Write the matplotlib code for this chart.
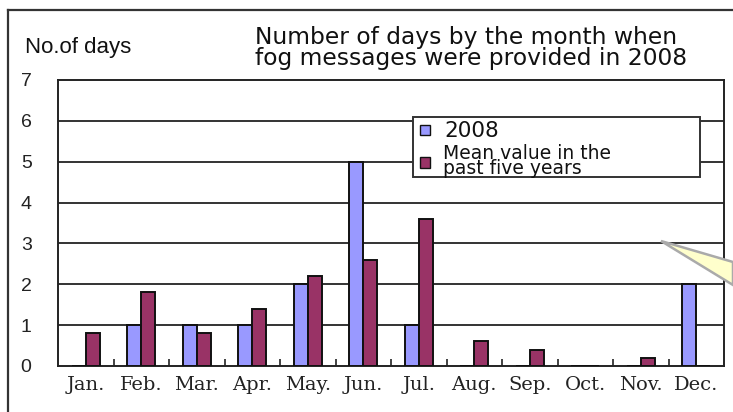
import matplotlib
matplotlib.use("Agg")
import matplotlib.pyplot as plt
import numpy as np
from matplotlib.patches import Rectangle, Polygon
from matplotlib.lines import Line2D

months = ["Jan.", "Feb.", "Mar.", "Apr.", "May.", "Jun.", "Jul.", "Aug.", "Sep.", "Oct.", "Nov.", "Dec."]
days_2008 = [0, 1, 1, 1, 2, 5, 1, 0, 0, 0, 0, 2]
mean_5yr = [0.8, 1.8, 0.8, 1.4, 2.2, 2.6, 3.6, 0.6, 0.4, 0, 0.2, 0]
yticks = [0, 1, 2, 3, 4, 5, 6, 7]

W, H = 733, 412
fig = plt.figure(figsize=(W / 100, H / 100), dpi=100)

def fx(px):
    return px / W

def fy(py):
    return 1 - py / H

ax = fig.add_axes([fx(58), fy(366), fx(724) - fx(58), fy(80) - fy(366)])

x = np.arange(len(months))
bw = 0.25
ax.bar(x - bw / 2, days_2008, width=bw, color="#9999FF", edgecolor="#111111", linewidth=1.4, zorder=3)
ax.bar(x + bw / 2, mean_5yr, width=bw, color="#993366", edgecolor="#111111", linewidth=1.4, zorder=3)

ax.set_xlim(-0.5, len(months) - 0.5)
ax.set_ylim(0, 7)
ax.set_yticks(yticks)
ax.set_yticklabels([str(v) for v in yticks], fontfamily="Liberation Sans", fontsize=14, color="#222222")
ax.set_xticks(x)
ax.set_xticklabels(months, fontfamily="DejaVu Serif", fontsize=14, color="#222222")
ax.set_xticks(np.arange(0.5, len(months) - 1, 1), minor=True)
ax.tick_params(axis="x", which="major", length=0, pad=7)
ax.tick_params(axis="x", which="minor", direction="in", length=5, width=1.2, color="#222222")
ax.tick_params(axis="y", length=0, pad=19)
for v in yticks[1:-1]:
    ax.axhline(v, color="#333333", linewidth=1.4, zorder=1)
for s in ax.spines.values():
    s.set_linewidth(1.4)
    s.set_color("#222222")

# figure frame
fig.add_artist(Line2D([fx(8), fx(8)], [fy(10), 0], transform=fig.transFigure, color="#333333", linewidth=1.6))
fig.add_artist(Line2D([fx(8), 1], [fy(10), fy(10)], transform=fig.transFigure, color="#333333", linewidth=1.6))

# texts
fig.text(fx(25), fy(47), "No.of days", fontfamily="Liberation Sans", fontsize=16, va="center", ha="left", color="#111111")
fig.text(fx(255), fy(48), "Number of days by the month when\nfog messages were provided in 2008",
         fontfamily="DejaVu Sans", fontsize=16.8, va="center", ha="left", linespacing=0.92, color="#111111")

# legend
fig.add_artist(Rectangle((fx(413), fy(177)), fx(700) - fx(413), fy(117) - fy(177), transform=fig.transFigure,
                         facecolor="white", edgecolor="#333333", linewidth=1.4, zorder=5))
fig.add_artist(Rectangle((fx(420), fy(135)), fx(10), fy(0) - fy(10), transform=fig.transFigure,
                         facecolor="#9999FF", edgecolor="#111111", linewidth=1.0, zorder=6))
fig.add_artist(Rectangle((fx(420), fy(168)), fx(10), fy(0) - fy(11), transform=fig.transFigure,
                         facecolor="#993366", edgecolor="#111111", linewidth=1.0, zorder=6))
fig.text(fx(444), fy(131), "2008", fontfamily="DejaVu Sans", fontsize=15.5, va="center", ha="left", zorder=7, color="#111111")
fig.text(fx(443), fy(161), "Mean value in the\npast five years", fontfamily="DejaVu Sans", fontsize=13.5,
         va="center", ha="left", linespacing=0.72, zorder=7, color="#111111")

# callout
fig.add_artist(Polygon([(fx(661), fy(241)), (1.0, fy(262)), (1.0, fy(285))], closed=True, transform=fig.transFigure,
                       facecolor="#FFFFCC", edgecolor="#AAAAAA", linewidth=1.8, zorder=8))

fig.savefig("out.png", dpi=100)
